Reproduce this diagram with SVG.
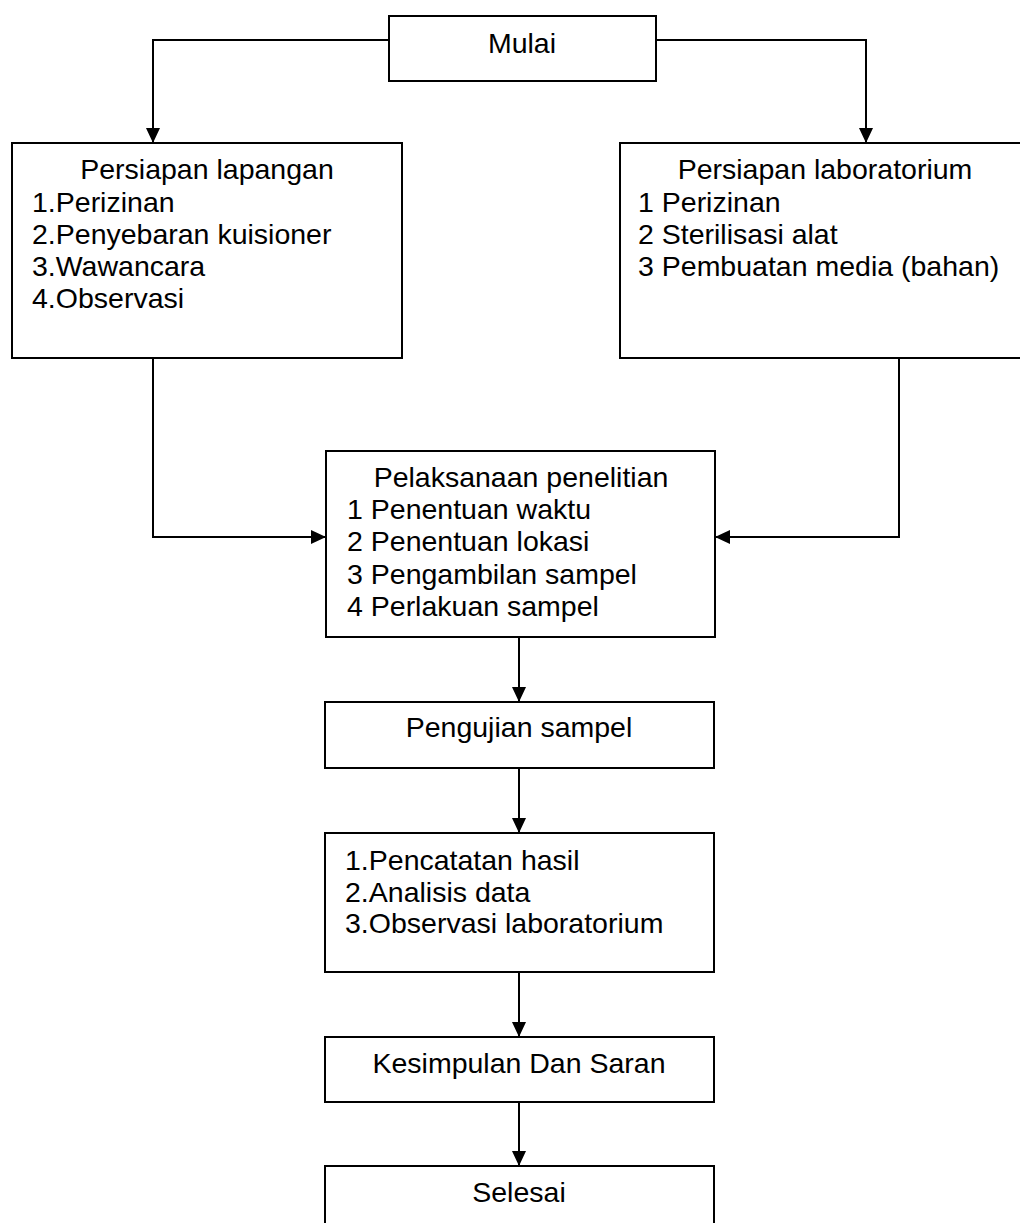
<svg xmlns="http://www.w3.org/2000/svg" width="1020" height="1223" viewBox="0 0 1020 1223">
<defs>
<style>
.box{fill:#fff;stroke:#000;stroke-width:2}
.t{font-family:"Liberation Sans",Arial,sans-serif;font-size:28.5px;fill:#000}
.c{text-anchor:middle}
.ln{fill:none;stroke:#000;stroke-width:2}
</style>
<marker id="ah" markerUnits="userSpaceOnUse" markerWidth="15" markerHeight="14" refX="15" refY="7" orient="auto">
<path d="M0,0 L15,7 L0,14 z" fill="#000"/>
</marker>
</defs>
<rect width="1020" height="1223" fill="#fff"/>
<g id="connectors">
<path class="ln" d="M389,40 H153 V143" marker-end="url(#ah)"/>
<path class="ln" d="M656,40 H866 V143" marker-end="url(#ah)"/>
<path class="ln" d="M153,358 V537 H326" marker-end="url(#ah)"/>
<path class="ln" d="M899,358 V537 H715" marker-end="url(#ah)"/>
<path class="ln" d="M519,637 V702" marker-end="url(#ah)"/>
<path class="ln" d="M519,768 V833" marker-end="url(#ah)"/>
<path class="ln" d="M519,972 V1037" marker-end="url(#ah)"/>
<path class="ln" d="M519,1102 V1166" marker-end="url(#ah)"/>
</g>
<g id="mulai">
<rect class="box" x="389" y="16" width="267" height="65"/>
<text class="t c" x="522" y="53">Mulai</text>
</g>
<g id="persiapan-lapangan">
<rect class="box" x="12" y="143" width="390" height="215"/>
<text class="t c" x="207" y="179">Persiapan lapangan</text>
<text class="t" x="32" y="212">1.Perizinan</text>
<text class="t" x="32" y="244">2.Penyebaran kuisioner</text>
<text class="t" x="32" y="276">3.Wawancara</text>
<text class="t" x="32" y="308">4.Observasi</text>
</g>
<g id="persiapan-laboratorium">
<rect class="box" x="620" y="143" width="420" height="215"/>
<text class="t c" x="825" y="179">Persiapan laboratorium</text>
<text class="t" x="638" y="212">1 Perizinan</text>
<text class="t" x="638" y="244">2 Sterilisasi alat</text>
<text class="t" x="638" y="276">3 Pembuatan media (bahan)</text>
</g>
<g id="pelaksanaan">
<rect class="box" x="326" y="451" width="389" height="186"/>
<text class="t c" x="521" y="487">Pelaksanaan penelitian</text>
<text class="t" x="347" y="519">1 Penentuan waktu</text>
<text class="t" x="347" y="551">2 Penentuan lokasi</text>
<text class="t" x="347" y="584">3 Pengambilan sampel</text>
<text class="t" x="347" y="616">4 Perlakuan sampel</text>
</g>
<g id="pengujian">
<rect class="box" x="325" y="702" width="389" height="66"/>
<text class="t c" x="519" y="737">Pengujian sampel</text>
</g>
<g id="pencatatan">
<rect class="box" x="325" y="833" width="389" height="139"/>
<text class="t" x="345" y="870">1.Pencatatan hasil</text>
<text class="t" x="345" y="902">2.Analisis data</text>
<text class="t" x="345" y="933">3.Observasi laboratorium</text>
</g>
<g id="kesimpulan">
<rect class="box" x="325" y="1037" width="389" height="65"/>
<text class="t c" x="519" y="1073">Kesimpulan Dan Saran</text>
</g>
<g id="selesai">
<rect class="box" x="325" y="1166" width="389" height="80"/>
<text class="t c" x="519" y="1202">Selesai</text>
</g>
</svg>
